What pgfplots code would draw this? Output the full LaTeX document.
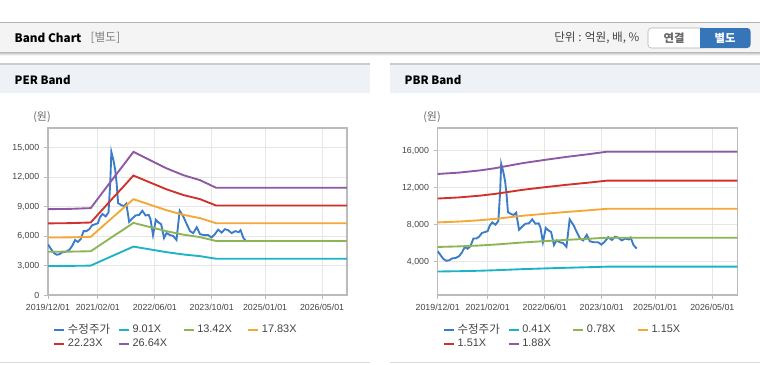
\documentclass[border=0pt]{standalone}
\usepackage{fontspec}
\usepackage{pgfplots}
\usepackage{pgfplotstable}
\pgfplotsset{compat=1.18}
\setmainfont{Liberation Sans}
\newfontfamily\kr{Noto Sans CJK KR}
\definecolor{cprice}{HTML}{3A7CC8}
\definecolor{ccyan}{HTML}{1EB3C4}
\definecolor{cgreen}{HTML}{8DB554}
\definecolor{corange}{HTML}{F4A835}
\definecolor{cred}{HTML}{D0312D}
\definecolor{cpurple}{HTML}{8E58A4}
\definecolor{gridc}{HTML}{E6E6E6}
\definecolor{axisc}{HTML}{BBBBBB}
\definecolor{labc}{HTML}{444444}
\definecolor{hdrbg}{HTML}{F4F4F4}
\definecolor{panbg}{HTML}{EEF2F7}
\definecolor{btnblue}{HTML}{3575B8}

\pgfplotstableread{
m p
0 5150
0.8 4700
1.6 4300
2.4 4100
3.2 4150
4.0 4350
5.0 4400
6.0 4600
6.8 5000
7.6 5600
8.4 5400
9.2 5700
10.0 6500
10.8 6500
11.6 6700
12.4 7100
13.2 7200
14.0 7300
14.6 7900
15.3 8250
16.2 8000
17.0 8400
17.5 11500
17.8 14570
18.4 13700
18.9 12700
19.3 11300
19.7 9350
20.6 9150
21.3 9050
22.0 9300
22.8 7450
23.7 7800
24.6 8100
25.6 8150
26.5 8580
27.4 8100
28.3 8150
28.8 7700
29.5 6100
30.3 7650
31.0 7400
31.8 7200
32.6 5800
33.3 6300
34.3 6100
35.2 6000
36.1 5600
37.0 8580
38.0 8000
39.0 7200
39.9 6500
40.8 6300
41.8 6900
42.7 6200
43.8 6100
45.0 6100
45.9 5850
46.8 6150
47.8 6650
48.8 6350
49.7 6700
50.6 6600
51.6 6300
52.6 6500
53.6 6400
54.1 6600
54.9 5800
55.8 5420
}\price

\pgfplotstableread{
m c1 c2 c3 c4 c5
0 2955 4402 5848 7291 8738
6 2964 4415 5866 7314 8765
12 2991 4455 5920 7380 8844
14 3316 4939 6561 8181 9804
18 3964 5905 7845 9781 11722
21 4442 6616 8790 10959 13134
24 4928 7341 9753 12160 14572
26.8 4757 7086 9414 11737 14066
29.6 4586 6831 9075 11315 13560
33.3 4361 6495 8630 10759 12894
38 4127 6146 8166 10181 12201
42.7 3955 5891 7827 9759 11695
47.2 3694 5502 7310 9114 10922
84 3694 5502 7310 9114 10922
}\perband

\pgfplotstableread{
m c1 c2 c3 c4 c5
0 2940 5593 8246 10827 13480
6 2973 5655 8338 10948 13630
12 3026 5756 8487 11144 13874
16 3075 5850 8625 11325 14100
24 3198 6084 8970 11778 14664
30 3272 6224 9177 12050 15002
36 3342 6357 9373 12307 15322
42 3403 6474 9545 12533 15604
47.5 3465 6593 9720 12763 15890
84 3465 6593 9720 12763 15890
}\pbrband

\pgfplotsset{bandaxis/.style={
 scale only axis, height=125.25pt,
 xmin=0, xmax=84,
 xtick={0,14,30,46,61,77},
 xticklabels={2019/12/01,2021/02/01,2022/06/01,2023/10/01,2025/01/01,2026/05/01},
 xmajorgrids, ymajorgrids,
 grid style={draw=gridc, line width=0.6pt},
 axis line style={draw=axisc, line width=0.9pt},
 tick style={draw=axisc, line width=0.6pt},
 tick align=outside, major tick length=3pt,
 tick pos=left,
 ticklabel style={font=\fontsize{6.6}{8}\selectfont, text=labc},
 /pgf/number format/assume math mode=true,
 /pgf/number format/1000 sep={,},
 scaled y ticks=false,
 yticklabel style={/pgf/number format/fixed},
 every axis plot/.append style={line width=1.4pt, mark=none},
 legend columns=4,
 legend cell align=left,
 legend style={draw=none, fill=none, at={(0.0167,-0.165)}, anchor=north west, inner sep=0pt,
   font=\fontsize{8.2}{9}\selectfont, text=labc, row sep=0.6pt,
   nodes={text width=35.5pt, inner xsep=2pt, inner ysep=1pt}},
 legend image code/.code={\draw[#1, line width=1.5pt] (0pt,0pt) -- (7.5pt,0pt);},
}}

\begin{document}
\begin{tikzpicture}
\begin{scope}[x=0.75pt,y=-0.75pt]
\useasboundingbox (0,0) rectangle (760,364);
\fill[white] (0,0) rectangle (760,364);
% header bar
\fill[hdrbg] (0,22.7) rectangle (760,52.7);
\draw[black!30, line width=0.75pt] (0,22.7) -- (760,22.7);
\shade[top color=black!22, bottom color=white] (0,52.7) rectangle (760,55.5);
\node[anchor=west, font=\kr\bfseries\fontsize{8.8}{11}\selectfont] at (10,38) {Band Chart};
\node[anchor=west, font=\kr\fontsize{8.8}{11}\selectfont, text=black!50] at (86,38) {[별도]};
\node[anchor=east, font=\kr\fontsize{8.7}{10}\selectfont, text=labc] at (644,38) {단위 : 억원, 배, \%};
\draw[fill=white, draw=black!30, rounded corners=2.5pt] (648,28) rectangle (706,48);
\fill[btnblue, rounded corners=2.5pt] (700,28) rectangle (750.5,48);
\fill[btnblue] (700,28) rectangle (705,48);
\node[font=\kr\bfseries\fontsize{8.5}{10}\selectfont, text=black!60] at (674,38) {연결};
\node[font=\kr\bfseries\fontsize{8.5}{10}\selectfont, text=white] at (725,38) {별도};
% panel bars
\fill[panbg] (0,64) rectangle (370,92.7);
\draw[black!20, line width=1pt] (0,64) -- (370,64);
\fill[panbg] (390,64) rectangle (760,92.7);
\draw[black!20, line width=1pt] (390,64) -- (760,64);
\node[anchor=west, font=\kr\bfseries\fontsize{8.6}{11}\selectfont] at (10,79.5) {PER Band};
\node[anchor=west, font=\kr\bfseries\fontsize{8.6}{11}\selectfont] at (400,79.5) {PBR Band};
\draw[black!15, line width=1pt] (0,362.7) -- (370,362.7);
\draw[black!15, line width=1pt] (390,362.7) -- (760,362.7);
\node[font=\kr\fontsize{8.2}{9}\selectfont, text=black!60] at (42,117) {(원)};
\node[font=\kr\fontsize{8.2}{9}\selectfont, text=black!60] at (432,117) {(원)};
\end{scope}

\begin{axis}[bandaxis, at={(36pt,-221.25pt)}, anchor=south west, width=224.25pt,
  ymin=0, ymax=17000, ytick={0,3000,6000,9000,12000,15000}]
\addplot[cprice] table[x=m,y=p] {\price};
\addlegendentry{\kr\fontsize{8.6}{9}\selectfont 수정주가}
\addplot[ccyan] table[x=m,y=c1] {\perband};
\addlegendentry{9.01X}
\addplot[cgreen] table[x=m,y=c2] {\perband};
\addlegendentry{13.42X}
\addplot[corange] table[x=m,y=c3] {\perband};
\addlegendentry{17.83X}
\addplot[cred] table[x=m,y=c4] {\perband};
\addlegendentry{22.23X}
\addplot[cpurple] table[x=m,y=c5] {\perband};
\addlegendentry{26.64X}
\end{axis}

\begin{axis}[bandaxis, at={(328.275pt,-221.25pt)}, anchor=south west, width=224.7pt,
  ymin=400, ymax=18450, ytick={4000,8000,12000,16000}]
\addplot[cprice] table[x=m,y=p] {\price};
\addlegendentry{\kr\fontsize{8.6}{9}\selectfont 수정주가}
\addplot[ccyan] table[x=m,y=c1] {\pbrband};
\addlegendentry{0.41X}
\addplot[cgreen] table[x=m,y=c2] {\pbrband};
\addlegendentry{0.78X}
\addplot[corange] table[x=m,y=c3] {\pbrband};
\addlegendentry{1.15X}
\addplot[cred] table[x=m,y=c4] {\pbrband};
\addlegendentry{1.51X}
\addplot[cpurple] table[x=m,y=c5] {\pbrband};
\addlegendentry{1.88X}
\end{axis}
\end{tikzpicture}
\end{document}
